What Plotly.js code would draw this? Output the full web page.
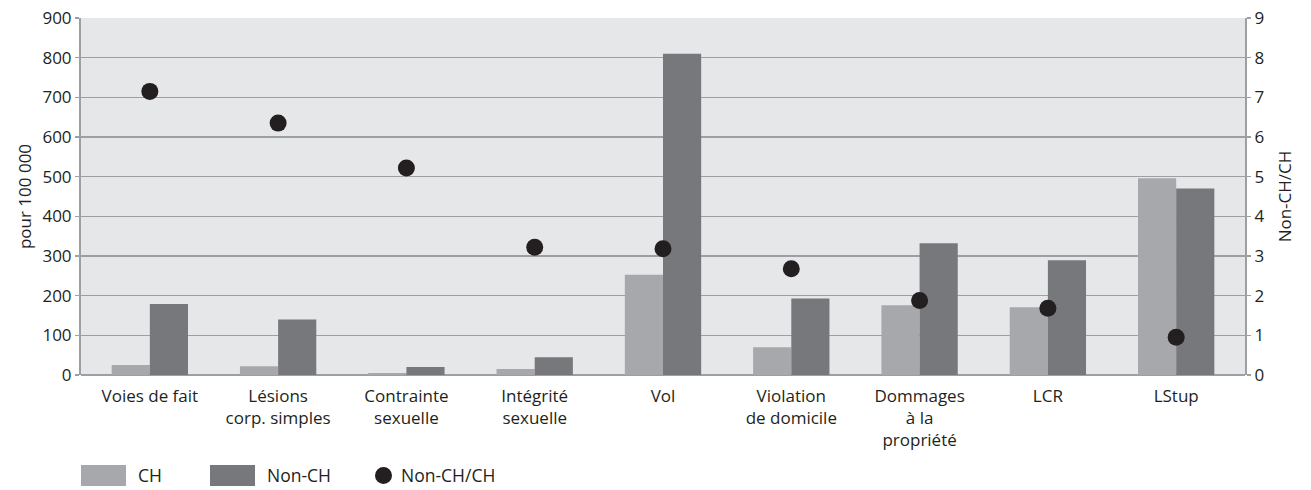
<!DOCTYPE html>
<html><head><meta charset="utf-8">
<script src="https://cdn.plot.ly/plotly-3.0.1.min.js"></script>
<style>html,body{margin:0;padding:0;background:#fff}</style>
</head><body>
<div id="chart" style="width:1311px;height:490px"></div>
<script>
const categories = ["Voies de fait", "Lésions<br>corp. simples", "Contrainte<br>sexuelle", "Intégrité<br>sexuelle", "Vol", "Violation<br>de domicile", "Dommages<br>à la<br>propriété", "LCR", "LStup"];
const chValues = [25, 22, 5, 15, 253, 70, 176, 171, 496];
const nonChValues = [179, 140, 20, 45, 810, 193, 332, 289, 470];
const ratioValues = [7.15, 6.35, 5.22, 3.22, 3.18, 2.68, 1.88, 1.68, 0.95];
const leftTicks = [0, 100, 200, 300, 400, 500, 600, 700, 800, 900];
const rightTicks = [0, 1, 2, 3, 4, 5, 6, 7, 8, 9];
const seriesNames = ["CH", "Non-CH", "Non-CH/CH"];
const seriesColors = ["#a7a8ab", "#77787b", "#231f20"];

const W = 1311, H = 490;
const M = {l: 81, r: 66, t: 18, b: 115};
const PW = W - M.l - M.r, PH = H - M.t - M.b;
const px = x => (x - M.l) / PW;       // pixel -> paper x
const py = y => (H - M.b - y) / PH;   // pixel -> paper y

const ink = "#231f20";
const gridC = "#9d9fa2";
const tickFont = {family: "Open Sans, sans-serif", size: 17, color: ink};
const catFont = {family: "Open Sans, sans-serif", size: 17, color: ink};
const legFont = {family: "Open Sans, sans-serif", size: 17.5, color: ink};

const data = [
  {type: "bar", name: seriesNames[0], x: categories, y: chValues, marker: {color: seriesColors[0]}, yaxis: "y", showlegend: false},
  {type: "bar", name: seriesNames[1], x: categories, y: nonChValues, marker: {color: seriesColors[1]}, yaxis: "y", showlegend: false},
  {type: "scatter", mode: "markers", name: seriesNames[2], x: categories, y: ratioValues, yaxis: "y2",
   marker: {color: seriesColors[2], size: 17}, showlegend: false}
];

// custom legend (wide swatches as in the original)
const legendY = 475.5;
const shapes = [
  {type: "rect", xref: "paper", yref: "paper", x0: px(81), x1: px(126), y0: py(486), y1: py(465), fillcolor: seriesColors[0], line: {width: 0}},
  {type: "rect", xref: "paper", yref: "paper", x0: px(210), x1: px(255), y0: py(486), y1: py(465), fillcolor: seriesColors[1], line: {width: 0}},
  {type: "circle", xref: "paper", yref: "paper", x0: px(375), x1: px(392), y0: py(484), y1: py(467), fillcolor: seriesColors[2], line: {width: 0}}
];
const annotations = [
  {xref: "paper", yref: "paper", x: px(136), y: py(legendY), xanchor: "left", yanchor: "middle", text: seriesNames[0], showarrow: false, font: legFont},
  {xref: "paper", yref: "paper", x: px(265), y: py(legendY), xanchor: "left", yanchor: "middle", text: seriesNames[1], showarrow: false, font: legFont},
  {xref: "paper", yref: "paper", x: px(399), y: py(legendY), xanchor: "left", yanchor: "middle", text: seriesNames[2], showarrow: false, font: legFont}
];

const layout = {
  width: W, height: H,
  margin: M,
  paper_bgcolor: "#ffffff",
  plot_bgcolor: "#e6e7e9",
  barmode: "group",
  bargap: 0.405,
  bargroupgap: 0,
  showlegend: false,
  shapes: shapes,
  annotations: annotations,
  xaxis: {type: "category", tickfont: catFont, showgrid: false, ticks: "", showline: false, zeroline: false,
          ticklabelstandoff: 9},
  yaxis: {range: [0, 900], tickvals: leftTicks, ticktext: leftTicks.map(String), tickfont: tickFont,
          gridcolor: gridC, gridwidth: 1.6, ticks: "outside", ticklen: 4, tickcolor: gridC, tickwidth: 1.6,
          showline: true, linecolor: gridC, linewidth: 2, zeroline: true, zerolinecolor: gridC, zerolinewidth: 2,
          title: {text: "pour 100 000", font: {family: "Open Sans, sans-serif", size: 17, color: ink}, standoff: 6}},
  yaxis2: {range: [0, 9], overlaying: "y", side: "right", tickvals: rightTicks, ticktext: rightTicks.map(String),
           tickfont: tickFont, showgrid: false, ticks: "outside", ticklen: 4, tickcolor: gridC, tickwidth: 1.6,
           showline: true, linecolor: gridC, linewidth: 2, zeroline: false,
           title: {text: "Non-CH/CH", font: {family: "Open Sans, sans-serif", size: 17, color: ink}, standoff: 16}}
};

Plotly.newPlot("chart", data, layout, {displayModeBar: false, staticPlot: true});
</script>
</body></html>
